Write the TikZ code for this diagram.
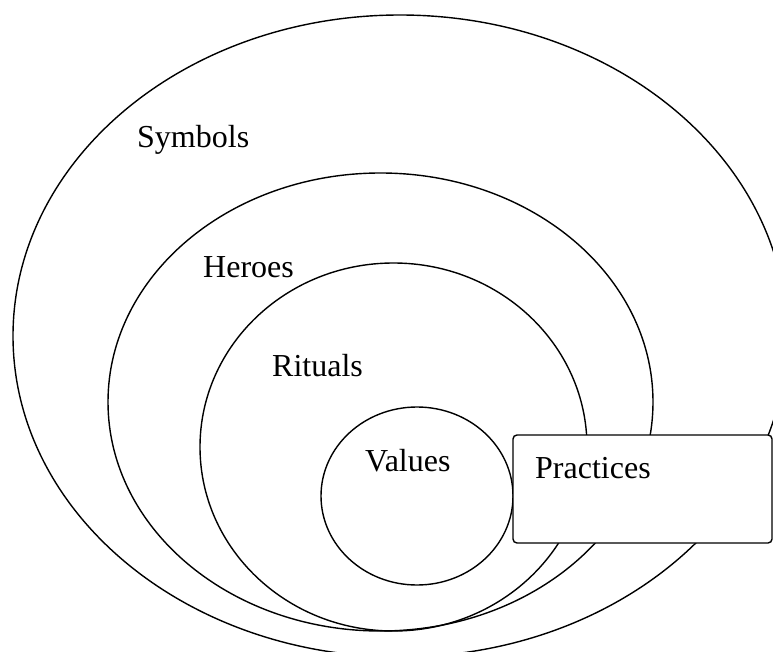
\documentclass[tikz,border=0pt]{standalone}
\usepackage{fontspec}
\setmainfont{Liberation Serif}
\begin{document}
\begin{tikzpicture}[x=1pt,y=-1pt,
  ring/.style={draw, line width=1.4pt},
  lbl/.style={anchor=base west, inner sep=0pt, font=\fontsize{32}{38}\selectfont}]
\useasboundingbox (0,0) rectangle (773,652);
\begin{scope}
  \clip (0,0) rectangle (773,652);
  % nested layers
  \draw[ring] (400,336) ellipse [x radius=387, y radius=321];
  \draw[ring] (380.5,402) ellipse [x radius=272.5, y radius=229];
  \draw[ring] (393.5,447) ellipse [x radius=193.5, y radius=184];
  \draw[ring] (417,496) ellipse [x radius=96, y radius=89];
  % practices box
  \draw[ring, fill=white, rounded corners=4pt] (513,435) rectangle (772,543);
\end{scope}
\node[lbl] (symbols) at (137,148) {Symbols};
\node[lbl] (heroes) at (203,277) {Heroes};
\node[lbl] (rituals) at (272,376) {Rituals};
\node[lbl] (values) at (365,471) {Values};
\node[lbl] (practices) at (535,478) {Practices};
\end{tikzpicture}
\end{document}
